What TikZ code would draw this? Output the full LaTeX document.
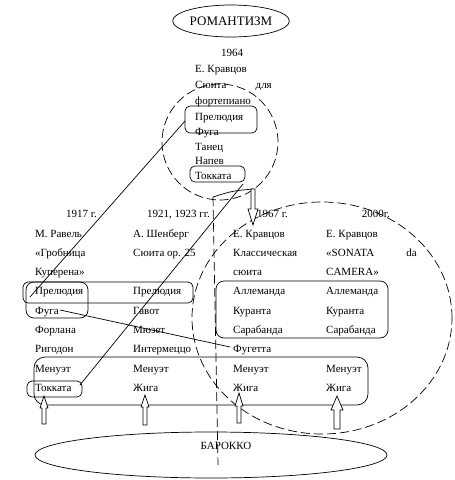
\documentclass[tikz,border=0pt]{standalone}
\usepackage{fontspec}
\setmainfont{Liberation Serif}
\usetikzlibrary{shapes.geometric}
\begin{document}
\begin{tikzpicture}[x=1pt,y=-1pt,
 txt/.style={inner sep=0pt, anchor=base west, font=\fontsize{11}{13}\selectfont},
 txtr/.style={txt, anchor=base east},
 rbox/.style={draw, rounded corners=5pt, line width=0.7pt},
 dsh/.style={draw, dash pattern=on 9pt off 4pt, line width=0.7pt},
 ln/.style={line width=0.7pt},
 barrow/.style={draw, fill=white, line width=0.7pt}]
\useasboundingbox (0,0) rectangle (455,480);
\newcommand{\blkup}[6]{\draw[barrow] (#1-#5,#4) -- (#1-#5,#3) -- (#1-#6,#3) -- (#1,#2) -- (#1+#6,#3) -- (#1+#5,#3) -- (#1+#5,#4) -- cycle;}
% big shapes
\node[ellipse, draw, line width=0.7pt, minimum width=114pt, minimum height=32pt, inner sep=0pt, font=\fontsize{13}{15}\selectfont] (rom) at (231,21) {РОМАНТИЗМ};
\node[circle, dsh, minimum size=116pt] (c64) at (220,142) {};
\node[ellipse, dsh, minimum width=260pt, minimum height=232pt] (bigell) at (322,318) {};
\node[ellipse, draw, line width=0.7pt, minimum width=352pt, minimum height=46pt] (bar) at (211,455) {};
\node[txt, anchor=base] (barlbl) at (226,449) {БАРОККО};
% vertical dashed axis
\coordinate (axtop) at (213,197);
\coordinate (axbot) at (218,465);
\draw[dsh] (axtop) -- (axbot);
% top group
\node[txt, anchor=base] (y1964) at (232,56) {1964};
\node[txt] (t1) at (195,72) {Е. Кравцов};
\node[txt] (t2) at (195,88) {Сюита};
\node[txtr] (t2b) at (272,88) {для};
\node[txt] (t3) at (195,104) {фортепиано};
\node[txt] (t4) at (195,120) {Прелюдия};
\node[txt] (t5) at (195,135) {Фуга};
\node[txt] (t6) at (195,150) {Танец};
\node[txt] (t7) at (195,164) {Напев};
\node[txt] (t8) at (195,179) {Токката};
\draw[rbox] (185,106) rectangle (257,133);
\draw[rbox] (190,166) rectangle (245,182);
% headers
\node[txtr] (h1) at (97,217) {1917 г.};
\node[txtr] (h2) at (210,217) {1921, 1923 гг.};
\node[txtr] (h3) at (288,217) {1967 г.};
\node[txtr] (h4) at (390,217) {2000г.};
% column 1
\node[txt] (a1) at (35,237) {М. Равель};
\node[txt] (a2) at (35,256) {«Гробница};
\node[txt] (a3) at (35,275) {Куперена»};
\node[txt] (a4) at (35,294) {Прелюдия};
\node[txt] (a5) at (35,314) {Фуга};
\node[txt] (a6) at (35,333) {Форлана};
\node[txt] (a7) at (35,352) {Ригодон};
\node[txt] (a8) at (35,372) {Менуэт};
\node[txt] (a9) at (35,391) {Токката};
% column 2
\node[txt] (b1) at (133,237) {А. Шенберг};
\node[txt] (b2) at (133,256) {Сюита ор. 25};
\node[txt] (b4) at (133,294) {Прелюдия};
\node[txt] (b5) at (133,314) {Гавот};
\node[txt] (b6) at (133,333) {Мюзет};
\node[txt] (b7) at (133,352) {Интермеццо};
\node[txt] (b8) at (133,372) {Менуэт};
\node[txt] (b9) at (133,391) {Жига};
% column 3
\node[txt] (c1) at (233,237) {Е. Кравцов};
\node[txt] (c2) at (233,256) {Классическая};
\node[txt] (c3) at (233,275) {сюита};
\node[txt] (c4) at (233,294) {Аллеманда};
\node[txt] (c5) at (233,314) {Куранта};
\node[txt] (c6) at (233,333) {Сарабанда};
\node[txt] (c7) at (233,352) {Фугетта};
\node[txt] (c8) at (233,372) {Менуэт};
\node[txt] (c9) at (233,391) {Жига};
% column 4
\node[txt] (d1) at (326,237) {Е. Кравцов};
\node[txt] (d2) at (326,256) {«SONATA};
\node[txtr] (d2b) at (417,256) {da};
\node[txt] (d3) at (326,275) {CAMERA»};
\node[txt] (d4) at (326,294) {Аллеманда};
\node[txt] (d5) at (326,314) {Куранта};
\node[txt] (d6) at (326,333) {Сарабанда};
\node[txt] (d8) at (326,372) {Менуэт};
\node[txt] (d9) at (326,391) {Жига};
% boxes lower
\draw[rbox] (23,282) rectangle (193,303);
\draw[rbox, rounded corners=8pt] (26,282) rectangle (88,318);
\draw[rbox, rounded corners=8pt] (216,281) rectangle (388,338);
\draw[rbox, rounded corners=11pt] (34,357) rectangle (368,405);
\draw[rbox] (27,381) rectangle (82,397);
% connecting lines
\coordinate (l1a) at (185,121);
\coordinate (l1b) at (30,297);
\coordinate (l2a) at (243,184);
\coordinate (l2b) at (80,385);
\coordinate (l3a) at (60,310);
\coordinate (l3b) at (230,347);
\draw[ln] (l1a) -- (l1b);
\draw[ln] (l2a) -- (l2b);
\draw[ln] (l3a) -- (l3b);
\coordinate (arrtop) at (253,189);
\draw[ln] (axtop) .. controls (232,191) .. (arrtop);
% block arrows
\draw[barrow] (251,189) -- (251,209) -- (248,209) -- (253,225) -- (258,209) -- (255,209) -- (255,189) -- cycle;
\blkup{44}{396}{408}{424}{2}{4}
\blkup{145}{395}{407}{425}{2}{4}
\blkup{239}{393}{406}{423}{2}{4}
\blkup{337}{396}{410}{429}{3}{6}
\end{tikzpicture}
\end{document}
